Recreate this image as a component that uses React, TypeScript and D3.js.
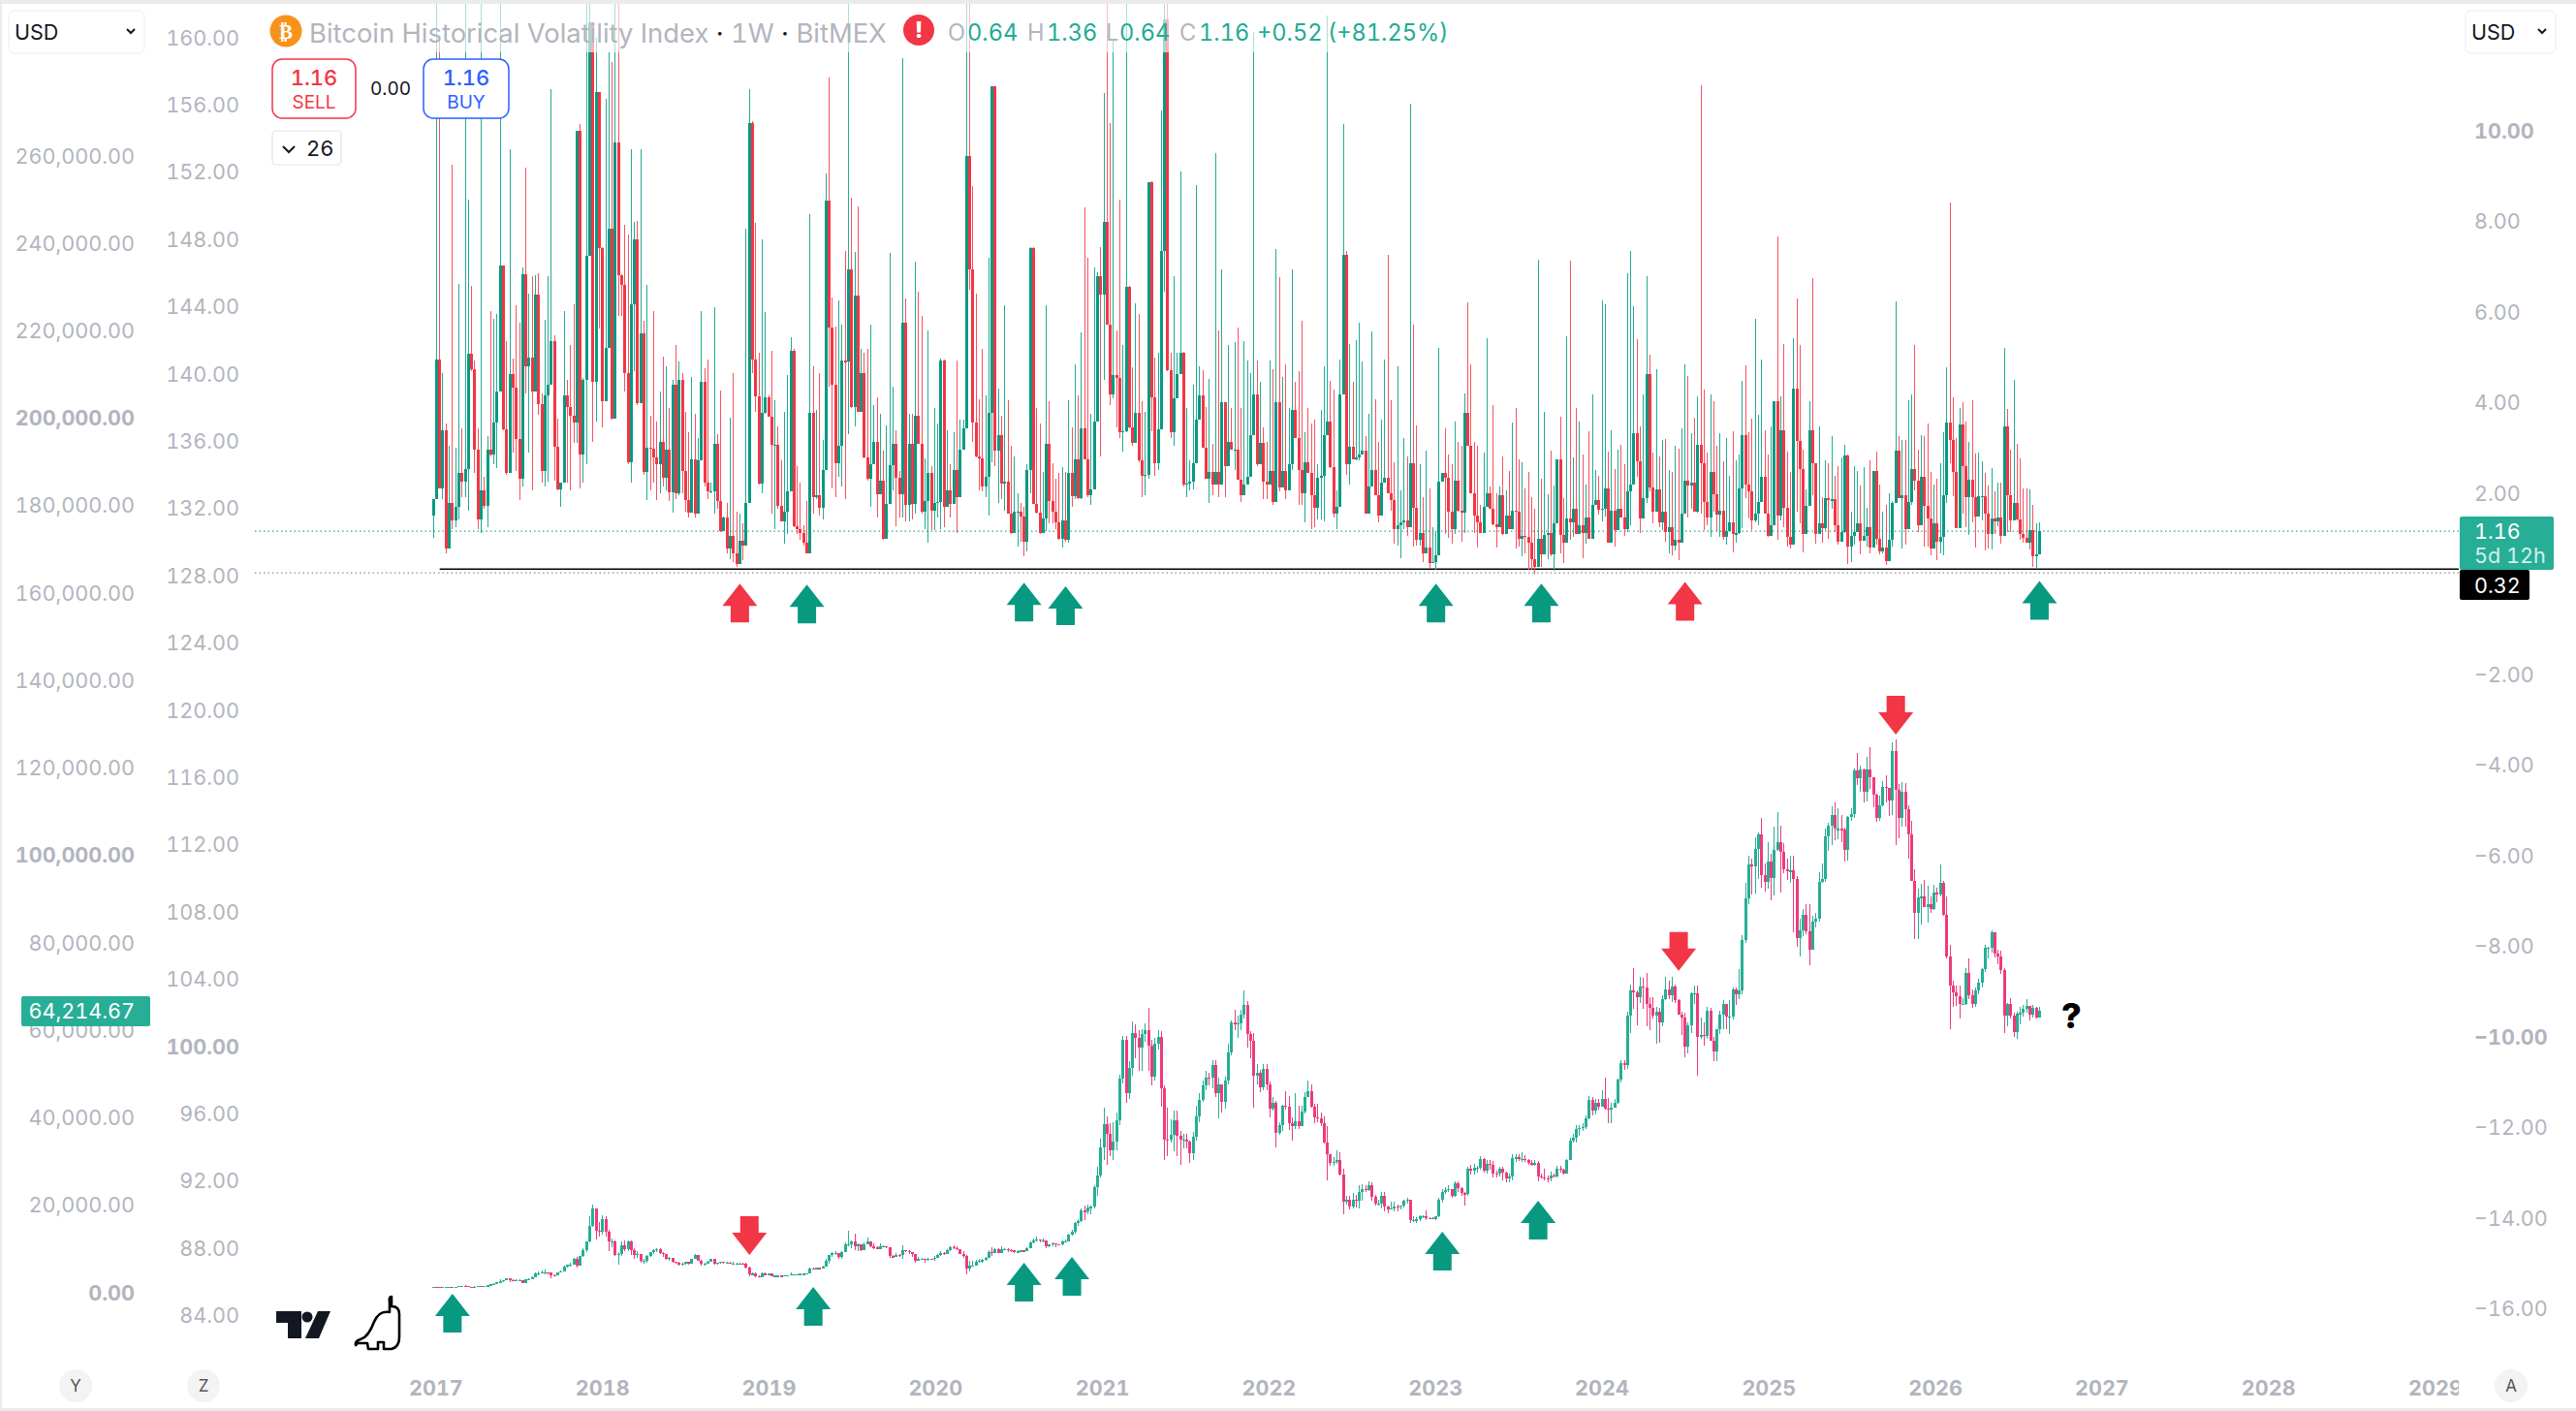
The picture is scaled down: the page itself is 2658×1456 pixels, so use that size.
import * as d3 from "d3";

// weekly candles, first one is the week of 2016-12-26
const firstWeek = new Date(Date.UTC(2016, 11, 26));

// Bitcoin Historical Volatility Index, 1W
const volFirstOpen = 1.5;
const volClose = [
  1.87,4.96,2.11,3.38,.78,1.78,1.40,1.70,2.44,2.25,
  2.54,5.08,4.73,2.96,1.42,2.06,1.71,2.97,2.85,3.55,
  4.24,7.03,3.40,2.45,4.63,4.32,3.19,2.32,6.84,4.80,
  4.99,4.24,6.38,3.97,2.48,4.16,4.40,5.35,3.03,2.09,
  2.24,4.16,3.90,3.71,3.56,9.99,2.85,4.51,7.23,12.39,
  4.45,10.85,7.41,4.04,5.21,7.84,3.64,9.74,6.82,6.60,
  4.65,2.69,6.16,7.61,3.98,5.52,2.46,3.01,2.99,2.79,
  2.63,3.14,2.34,2.97,2.01,4.40,1.99,4.51,2.48,1.84,
  1.56,2.75,1.54,2.73,4.46,2.24,2.03,2.04,3.08,1.83,
  1.17,1.47,.78,1.06,.68,.43,.95,.84,1.78,10.18,
  4.96,4.13,2.21,3.77,4.12,3.69,3.07,3.07,1.72,1.38,
  1.58,2.05,5.14,1.27,1.21,1.11,.91,.68,3.77,1.91,
  1.95,1.68,2.52,8.45,5.66,4.40,2.66,3.05,4.92,4.90,
  6.94,3.91,6.37,3.79,4.65,2.79,2.32,2.64,3.14,1.97,
  2.28,.99,1.77,2.62,3.09,2.34,1.97,5.76,1.73,3.09,
  1.77,3.71,3.09,1.58,1.83,2.45,1.62,1.78,1.81,4.92,
  1.70,2.06,1.76,2.50,1.92,2.97,3.42,9.44,
  6.94,3.56,2.81,2.77,2.14,2.36,3.77,10.99,2.93,3.28,
  2.21,2.26,1.55,1.11,1.58,1.60,1.48,.92,2.52,7.41,
  1.76,1.57,1.11,1.43,3.09,1.82,1.60,1.35,.99,1.39,
  .96,2.44,1.93,2.75,1.89,3.42,2.75,1.95,2.08,3.57,
  6.80,6.38,7.98,5.73,4.17,4.61,4.55,3.34,3.36,6.56,
  3.46,3.12,3.77,2.73,2.38,2.41,8.87,4.12,2.66,3.40,
  7.35,12.47,4.71,3.34,4.10,4.63,5.10,2.19,2.22,2.26,
  2.66,3.63,4.16,3.01,2.32,2.46,2.19,2.46,2.19,4.01,
  2.60,3.14,2.96,2.96,2.30,1.96,2.19,2.36,3.28,4.18,
  2.64,3.12,2.25,2.19,2.48,1.80,4.0,2.13,2.48,2.07,
  2.64,3.83,3.22,2.52,1.99,2.69,2.44,1.96,1.68,2.34,
  2.38,3.28,3.59,2.58,1.55,1.70,4.18,7.26,2.63,3.03,
  2.74,2.79,2.86,2.94,1.54,2.15,2.52,1.95,1.50,2.24,
  2.34,2.0,1.84,1.21,1.28,1.36,1.40,1.24,2.66,1.68,
  .97,1.13,.68,.80,.45,.48,.62,2.26,2.44,2.34,
  1.6,1.21,2.27,1.61,1.56,3.77,3.05,1.99,1.51,1.35,
  1.12,1.70,2.0,1.66,1.32,1.25,1.95,1.09,1.51,1.21,
  1.62,1.6,1.0,1.06,1.03,.91,.54,.36,1.0,.65,
  1.08,1.13,.65,1.33,2.74,1.08,.9,1.45,1.35,1.65,
  1.1,1.3,1.11,1.47,1.0,1.75,1.84,1.63,1.65,2.11,
  .9,1.62,1.18,1.66,1.47,1.2,2.05,2.2,3.32,2.7,
  1.43,1.88,4.62,2.13,1.58,2.09,1.35,1.58,1.14,1.24,
  .84,.98,.9,1.55,2.27,2.17,2.24,1.59,3.07,2.65,
  1.81,1.47,2.46,1.97,1.53,1.62,1.03,1.17,1.36,1.1,
  1.11,2.1,3.27,2.18,2.04,1.4,1.54,1.81,2.37,1.54,
  1.06,1.3,4.04,1.5,3.39,1.68,1.04,.86,4.3,3.16,
  2.54,1.1,1.72,3.39,2.65,1.1,1.34,1.23,1.88,1.86,
  1.86,1.29,.93,1.15,2.84,.81,1.06,1.15,1.34,.95,
  1.06,1.25,.8,2.48,1.0,.72,.79,.5,.96,1.79,
  2.93,1.88,1.95,1.21,1.81,2.54,2.27,1.29,2.35,1.72,
  1.43,.78,1.33,.93,1.04,1.95,3.55,3.18,2.47,1.22,
  3.51,2.59,1.91,2.29,1.92,1.48,1.94,1.94,1.54,1.1,
  1.43,1.38,1.47,1.06,3.48,1.95,1.4,1.79,1.41,1.1,
  1.01,.91,1.18,.61,.64,1.16,
];
const volHigh = [
  1.87,13.5,12.06,4.65,3.54,3.05,9.25,3.0,6.61,3.42,
  13.5,8.48,6.57,4.93,3.42,13.5,2.36,3.26,6.03,5.84,
  5.96,13.5,7.03,5.35,9.59,4.98,6.15,5.76,6.98,9.18,
  6.41,6.78,6.82,6.86,4.2,5.82,6.8,10.93,5.48,3.64,
  2.24,6.03,4.51,5.28,6.18,9.99,10.15,4.54,13.5,13.5,
  12.39,12.06,10.85,7.43,10.71,11.73,11.53,13.5,13.5,6.84,
  7.92,7.72,9.6,7.98,8.02,9.6,5.8,6.6,3.71,6.03,
  3.58,4.24,5.02,4.81,3.87,4.49,5.28,4.9,4.65,3.79,
  3.34,4.57,3.75,3.22,6.03,4.75,4.96,2.24,6.1,3.3,
  4.27,1.48,1.78,3.67,4.65,1.58,1.54,1.33,7.84,10.93,
  10.22,7.97,5.1,7.6,6.0,4.16,5.14,4.05,3.48,2.73,
  3.79,4.61,5.44,5.18,2.6,2.24,1.29,1.83,8.15,4.81,
  3.83,4.65,3.18,9.05,11.18,6.33,5.67,6.25,5.72,7.35,
  13.5,8.52,7.33,8.33,5.18,5.1,5.18,5.73,3.95,4.12,
  3.75,2.93,3.5,7.31,4.34,3.38,2.48,11.61,6.3,3.75,
  3.75,7.12,6.45,5.92,2.77,5.59,2.6,3.87,3.54,4.98,
  4.95,3.38,2.64,3.34,4.93,3.62,3.62,13.5,
  13.5,8.78,6.41,4.08,5.18,4.16,7.2,10.99,10.99,4.3,
  3.71,6.14,4.05,3.05,2.81,1.99,1.78,1.7,2.64,7.43,
  7.43,3.87,3.54,2.46,6.15,4.02,2.66,2.32,2.44,2.58,
  2.46,4.05,3.46,4.85,4.16,5.55,8.32,7.19,3.75,6.98,
  6.88,7.43,10.83,13.5,10.18,11.98,5.59,8.47,5.27,13.5,
  6.57,4.77,6.2,5.96,4.04,3.79,8.87,8.88,5.0,5.1,
  10.46,13.5,13.5,5.1,6.78,5.1,9.11,5.12,3.87,2.73,
  4.39,8.81,4.81,4.72,3.9,4.53,3.09,9.5,5.59,6.93,
  4.01,5.27,3.87,5.33,5.65,3.87,5.35,4.93,4.65,12.18,
  4.93,4.45,3.46,3.14,4.93,4.73,7.38,6.76,4.57,4.85,
  3.87,6.93,4.45,4.69,5.8,3.34,3.87,3.54,3.62,2.64,
  3.83,4.81,12.55,4.47,4.28,2.07,4.95,10.15,7.35,5.3,
  4.45,5.37,5.76,4.9,3.26,3.75,5.58,4.08,3.14,3.62,
  4.95,7.27,4.05,2.68,4.81,2.07,3.22,2.81,10.59,5.71,
  3.5,2.64,1.91,2.93,2.11,1.25,1.17,5.2,2.44,3.42,
  2.85,2.64,3.59,3.14,3.05,4.2,6.22,4.85,3.14,3.05,
  1.74,2.89,5.41,2.15,3.95,1.99,2.15,2.81,2.07,2.48,
  3.55,3.89,2.75,2.68,2.11,2.47,1.92,1.65,7.16,2.32,
  3.79,1.98,2.93,2.16,2.74,3.68,1.9,5.46,7.14,2.79,
  3.89,3.57,2.86,2.18,3.36,4.19,2.52,2.38,6.25,6.16,
  2.91,3.39,2.54,2.97,3.07,2.63,6.85,7.35,6.12,5.39,
  3.48,4.19,6.8,5.05,2.9,4.73,2.82,3.17,3.2,2.5,
  2.47,3.05,2.99,3.42,4.84,4.59,3.32,3.66,4.14,11.0,
  4.29,2.9,4.19,4.04,3.05,3.32,2.7,3.22,2.38,3.36,
  2.72,2.86,4.48,4.82,3.34,3.64,5.85,3.73,4.94,3.39,
  2.86,3.48,4.04,7.67,4.13,5.3,2.91,2.47,5.43,6.3,
  5.28,2.95,2.08,4.02,6.75,2.65,3.47,1.92,2.72,2.67,
  3.25,2.38,2.6,2.79,3.06,2.85,1.59,2.59,2.49,2.16,
  2.57,1.68,2.72,2.48,2.91,2.18,1.58,1.75,1.99,1.83,
  6.23,3.25,3.17,3.17,4.05,4.19,5.28,2.97,3.29,3.25,
  3.54,2.47,2.2,2.31,2.66,3.34,4.77,8.41,4.11,3.22,
  3.89,4.0,3.59,3.13,4.06,2.87,2.9,2.7,2.45,2.16,
  2.55,2.04,2.23,2.23,5.2,3.85,2.95,4.51,3.09,2.77,
  2.1,2.1,2.08,1.74,1.34,1.36,
];
const volLow = [
  1.02,1.87,2.11,1.87,.68,.78,1.21,1.25,1.42,1.91,
  1.91,1.62,4.69,2.44,1.21,1.13,1.66,1.25,2.81,2.64,
  2.56,4.24,3.38,2.4,2.48,2.89,2.48,1.84,2.15,4.2,
  2.89,2.07,4.24,3.73,2.24,2.14,2.25,4.4,2.28,2.06,
  1.69,2.24,2.24,2.07,3.1,3.1,2.11,2.24,2.64,7.23,
  3.14,3.59,5.63,3.46,4.04,5.21,3.63,3.64,5.92,5.92,
  4.24,2.64,2.24,4.69,3.95,3.98,2.4,1.84,2.07,2.24,
  1.84,1.99,2.15,2.07,1.83,1.56,1.87,1.95,1.99,1.6,
  1.46,1.56,1.46,1.54,2.73,2.15,1.87,2.0,1.54,1.65,
  1.15,1.17,.68,.55,.48,.37,.43,.51,.84,1.78,
  4.65,3.79,2.2,1.99,3.75,3.69,1.54,1.21,1.66,1.38,
  .88,1.09,2.03,1.25,1.09,.97,.84,.68,.68,1.54,
  1.87,1.5,1.42,2.52,4.36,2.11,1.91,2.36,2.15,1.87,
  3.3,3.87,3.48,3.79,3.79,2.77,2.28,1.7,2.64,1.46,
  1.97,.97,.99,1.77,2.07,1.27,1.46,1.46,1.38,1.38,
  1.42,1.54,3.09,1.54,1.21,.91,1.19,1.19,1.46,1.21,
  1.25,1.7,1.46,1.76,1.13,1.92,2.97,3.42,
  6.49,3.14,2.79,2.07,2.05,1.91,1.51,2.68,2.6,1.78,
  1.87,1.62,1.54,1.1,1.11,.83,.93,.6,.72,1.99,
  1.76,1.54,1.09,1.11,1.17,1.33,1.33,1.21,.97,.79,
  .93,.91,1.7,1.87,1.87,1.87,2.75,1.91,1.73,2.09,
  3.57,2.81,4.49,5.73,3.95,4.1,3.46,3.22,2.91,3.34,
  3.42,3.05,3.12,2.68,1.91,1.95,2.32,3.36,2.38,2.52,
  3.4,6.45,4.69,3.22,3.05,4.1,4.63,2.15,1.92,2.07,
  2.09,2.66,3.62,3.01,2.32,1.78,1.95,2.19,1.91,2.19,
  1.91,2.6,2.96,2.52,2.3,1.8,1.96,2.19,2.36,3.28,
  2.6,2.64,1.87,1.87,2.19,1.73,1.8,2.05,2.13,1.87,
  2.07,2.52,3.22,1.74,1.74,1.35,2.44,1.21,1.25,1.42,
  1.42,1.38,3.28,2.56,1.46,1.21,1.7,4.18,2.4,2.19,
  2.74,2.73,2.73,2.85,1.54,1.54,2.15,1.95,1.35,1.5,
  2.24,2.0,1.62,.88,.85,.56,1.21,1.05,1.24,.83,
  .85,.85,.48,.68,.35,.45,.31,.62,2.26,1.09,
  1.01,.88,1.09,1.6,.93,1.11,3.05,1.99,1.13,.8,
  1.12,1.25,1.7,1.66,1.29,.8,1.25,1.07,1.09,1.21,
  1.2,.77,.81,.6,.67,.31,.31,.22,.36,.38,
  .65,.54,.6,.29,1.33,.68,.45,.9,.97,1.03,
  1.1,1.1,.56,.88,1.0,1.0,1.75,1.52,1.38,1.48,
  .9,.9,.81,1.18,1.47,1.06,1.15,1.28,2.18,2.36,
  1.11,1.43,1.79,2.04,1.34,1.58,1.25,1.18,.93,.68,
  .63,.74,.52,.9,1.55,1.47,1.65,1.59,1.56,1.55,
  1.18,1.29,1.04,1.59,1.17,1.03,.96,.86,1.36,.7,
  .9,1.1,1.22,1.9,1.43,1.18,1.36,1.29,1.81,1.54,
  1.03,1.06,1.29,.98,1.4,1.25,.83,.78,.86,1.58,
  1.33,.7,1.1,1.72,1.95,.88,1.1,.9,1.18,1.0,
  1.65,1.15,.86,.93,1.11,.44,.47,.86,1.15,.65,
  .95,.83,.67,.8,.86,.65,.68,.41,.5,.81,
  1.79,1.88,.77,.86,1.21,1.74,2.06,1.15,1.29,.83,
  .81,.63,.78,.52,.66,.63,1.78,2.65,1.93,1.22,
  1.22,1.54,1.25,1.08,1.36,.79,1.48,1.4,.73,.77,
  .76,1.1,1.27,.88,1.06,1.15,1.15,1.4,1.4,.97,
  .91,.9,.76,.38,.32,.64,
];

// BTC/USD weekly, in thousands of dollars
const btcFirstOpen = 0.89;
const btcClose = [
  // 2017
  1.0,.91,.82,.92,.92,1.01,1.0,1.05,1.17,1.27,1.24,1.03,.96,1.08,1.18,1.17,1.26,1.35,1.55,1.72,
  2.05,2.2,2.5,2.95,2.6,2.45,2.5,2.5,1.95,2.75,2.75,3.25,4.05,4.1,4.35,4.35,4.2,3.7,3.6,4.4,
  4.6,5.7,6.0,6.15,7.4,5.9,8.0,9.3,11.3,15.0,19.0,13.9,13.5,
  // 2018
  16.5,13.5,11.5,11.5,8.2,8.5,10.5,9.7,11.5,9.5,8.2,8.5,6.9,7.0,8.0,8.9,9.4,9.6,8.7,8.5,
  7.3,7.7,6.7,6.5,6.1,6.4,6.7,6.3,7.4,8.2,7.0,6.3,6.4,6.7,7.3,6.2,6.5,6.7,6.6,6.6,
  6.3,6.4,6.4,6.4,6.35,5.5,3.9,4.0,3.4,3.2,4.0,3.85,
  // 2019
  4.0,3.5,3.55,3.55,3.45,3.65,3.65,3.8,3.8,3.9,4.0,4.0,4.1,5.2,5.1,5.3,5.2,5.7,7.0,8.2,
  8.7,8.7,7.9,8.9,10.8,10.8,11.4,10.2,10.7,9.5,10.8,11.3,10.2,10.1,9.7,10.3,10.3,10.0,8.0,7.9,
  8.3,8.2,9.5,9.2,9.0,8.5,7.0,7.4,7.5,7.1,7.5,7.3,
  // 2020
  7.7,8.2,8.7,8.6,9.3,10.1,9.9,9.7,8.6,8.0,5.2,5.8,5.9,6.8,6.9,7.1,7.7,9.0,8.7,9.7,
  8.8,9.7,9.7,9.4,9.3,9.0,9.1,9.3,9.2,9.9,11.1,11.7,11.9,11.6,11.7,10.3,10.7,10.9,10.8,10.7,
  11.4,11.5,13.0,13.7,15.5,16.0,18.4,18.2,19.2,19.3,23.9,26.5,
  // 2021
  33.0,38.2,36.0,32.3,34.3,39.2,48.7,57.4,45.2,51.0,59.0,58.0,55.8,58.8,59.8,56.2,49.0,56.6,58.2,46.4,
  34.7,34.6,35.8,39.0,35.6,34.7,34.7,34.2,31.5,35.3,39.9,43.8,47.0,48.9,48.8,51.8,45.2,47.2,43.2,48.2,
  54.7,61.5,61.0,61.3,63.3,65.5,58.9,57.2,49.4,50.0,46.7,50.8,47.3,
  // 2022
  41.8,43.1,36.3,38.0,42.4,42.2,38.4,37.7,38.9,37.8,41.2,44.5,45.8,42.2,39.7,39.5,38.5,34.0,31.3,29.4,
  29.5,29.9,26.6,20.5,21.0,19.3,20.9,20.8,22.6,23.3,23.2,24.3,21.5,20.0,20.0,21.8,19.4,18.8,19.0,19.4,
  19.3,19.6,20.6,20.9,16.3,16.3,16.4,17.1,17.1,16.7,16.8,16.6,
  // 2023
  17.1,20.9,22.7,23.1,23.3,21.8,24.6,23.5,22.4,22.2,28.0,27.5,28.2,28.3,30.3,27.6,29.2,28.9,26.9,26.8,
  28.0,27.2,25.9,26.3,30.5,30.6,30.2,30.3,30.1,29.3,29.0,29.3,26.2,26.0,25.9,25.8,26.5,26.3,28.0,27.9,
  27.0,30.0,34.5,35.0,37.1,37.4,37.5,39.5,43.8,41.4,43.0,42.3,
  // 2024
  43.9,41.7,41.6,42.0,43.0,48.3,52.1,51.7,63.1,68.9,68.4,67.2,69.7,69.4,65.7,64.9,63.1,64.0,61.5,66.9,
  69.0,67.7,69.6,66.6,63.2,62.7,55.9,60.8,68.2,68.2,58.1,58.7,58.4,64.2,57.3,54.9,59.9,63.3,65.6,62.8,
  62.8,69.0,67.9,68.7,80.4,89.9,97.7,97.2,101.1,104.4,95.1,93.7,
  // 2025
  98.3,94.5,101.0,102.6,100.6,96.5,96.1,96.2,94.2,80.7,82.6,86.0,82.4,78.2,84.5,85.1,93.7,94.3,104.1,106.4,
  109.0,105.7,105.7,105.5,101.0,108.4,109.2,119.0,117.3,119.4,114.2,119.3,117.5,113.5,108.3,111.1,115.3,115.2,112.2,123.5,
  114.7,108.3,114.2,110.3,104.4,93.9,86.6,90.1,90.2,87.9,88.5,87.5,
  // 2026
  91.2,90.7,93.4,86.1,76.6,70.0,68.4,67.4,65.8,65.8,72.7,67.6,65.8,68.7,70.5,73.6,78.5,78.5,82.1,77.2,
  76.6,73.5,63.1,65.6,63.0,59.3,63.5,63.6,64.6,65.3,63.3,64.8,62.7,64.21,
];
const btcHigh = [
  // 2017
  1.0,1.04,.92,.93,.93,1.03,1.02,1.06,1.2,1.29,1.33,1.26,1.07,1.09,1.2,1.21,1.27,1.36,1.62,1.85,
  2.18,2.76,2.55,2.98,2.99,2.78,2.65,2.65,2.43,2.85,2.9,3.4,4.2,4.45,4.65,4.98,4.4,4.13,3.9,4.4,
  4.78,5.8,6.15,6.45,7.6,7.88,8.1,9.8,11.4,17.2,19.8,16.8,15.8,
  // 2018
  17.3,17.2,14.0,12.1,11.7,9.0,11.3,11.7,11.7,11.6,9.9,9.2,8.6,7.5,8.2,9.0,9.7,9.9,9.9,8.9,
  8.5,7.8,7.7,6.8,6.8,6.6,6.8,6.8,7.5,8.4,8.3,7.2,6.5,6.9,7.4,7.4,6.6,6.8,6.8,6.7,
  6.8,6.7,6.5,6.5,6.5,6.5,5.6,4.4,4.3,3.6,4.2,4.2,
  // 2019
  4.1,4.1,3.7,3.65,3.6,3.7,3.7,4.2,3.9,3.95,4.0,4.1,4.15,5.3,5.3,5.4,5.5,5.8,7.4,8.3,
  8.9,9.1,8.3,9.2,11.2,13.9,11.6,13.1,11.0,10.2,11.1,12.3,11.3,10.9,10.2,10.9,10.6,10.3,10.0,8.3,
  8.7,8.4,10.4,9.5,9.4,8.8,7.8,7.9,7.7,7.5,7.6,7.5,
  // 2020
  8.1,8.4,9.1,9.0,9.6,10.2,10.5,10.3,9.7,9.2,8.2,6.9,6.9,7.2,7.4,7.3,7.8,9.4,10.0,9.9,
  9.9,10.2,9.9,9.9,9.7,9.4,9.4,9.4,9.3,10.0,11.4,12.0,12.4,11.8,12.1,11.7,10.8,11.2,10.9,10.8,
  11.7,11.8,13.2,14.0,15.9,16.5,18.9,19.5,19.9,19.5,24.2,28.4,
  // 2021
  34.8,41.9,40.0,38.5,38.7,40.9,49.5,58.3,58.3,52.6,61.8,61.0,59.6,60.0,61.3,64.8,57.5,58.0,59.6,59.5,
  47.0,42.0,39.3,41.3,41.3,36.7,36.0,35.9,34.5,36.4,42.5,45.3,48.1,50.5,49.9,52.9,52.9,48.8,45.0,49.1,
  56.5,62.0,64.4,63.0,64.3,68.8,66.3,59.5,59.0,51.9,50.7,52.0,51.9,
  // 2022
  47.9,44.4,43.5,38.7,42.6,45.8,44.7,39.8,45.4,42.5,42.4,45.5,48.2,47.4,42.9,42.9,40.8,39.9,37.7,31.4,
  30.7,32.2,31.7,28.0,21.9,21.9,22.5,22.0,24.2,24.5,24.2,25.2,24.9,22.0,21.0,22.8,22.7,19.6,20.5,20.4,
  19.9,19.7,21.0,21.4,21.0,17.2,17.0,17.3,17.4,18.4,16.9,16.9,
  // 2023
  17.2,21.4,23.3,23.9,24.2,23.4,25.2,25.1,23.9,22.6,28.4,28.9,29.2,28.7,30.9,30.4,29.9,30.0,29.8,27.6,
  28.4,28.4,27.4,26.8,31.4,31.4,31.4,31.8,31.2,30.3,30.0,30.1,29.7,26.8,28.1,26.4,27.4,27.0,28.6,28.6,
  28.0,30.2,35.2,35.9,37.9,38.0,38.4,40.2,44.7,44.4,44.0,44.0,
  // 2024
  45.9,48.9,44.2,43.0,43.9,48.6,52.8,52.9,63.9,70.1,73.8,68.9,71.8,71.6,72.7,67.2,67.2,65.0,64.9,67.7,
  71.9,71.0,72.0,70.2,66.9,63.9,63.8,61.4,68.4,70.0,70.0,62.6,61.4,65.0,64.9,58.2,60.0,64.1,66.5,64.4,
  66.5,69.5,69.5,73.6,81.5,93.4,99.5,98.9,103.9,105.0,108.3,97.9,
  // 2025
  102.7,100.0,106.3,109.6,106.4,102.5,98.9,99.5,99.5,95.0,85.3,87.5,88.5,88.5,85.9,86.5,95.8,97.9,105.8,107.1,
  110.9,111.9,110.4,109.0,106.1,108.7,110.5,119.5,123.2,120.2,119.5,122.3,124.5,117.4,113.7,113.4,116.7,117.9,114.8,125.5,
  126.2,115.9,116.4,116.3,111.1,107.5,96.6,92.0,93.1,94.1,92.8,90.4,
  // 2026
  93.0,92.3,97.6,93.8,90.3,79.2,71.0,70.0,70.0,67.0,74.0,76.0,69.0,69.5,71.5,73.9,79.3,78.8,82.5,82.1,
  78.0,77.8,73.8,66.0,67.0,63.6,63.9,65.0,65.5,66.7,65.3,65.5,65.0,65.0,
];
const btcLow = [
  // 2017
  .89,.75,.75,.88,.88,.9,.96,.97,1.03,1.18,1.1,.93,.88,.95,1.05,1.1,1.15,1.25,1.35,1.5,
  1.7,1.9,2.15,2.5,2.1,2.3,2.3,2.25,1.83,1.95,2.6,2.7,3.2,3.6,4.0,3.9,3.9,2.97,3.4,3.6,
  4.2,4.6,5.4,5.6,6.1,5.5,5.9,7.9,9.0,11.1,14.8,11.8,12.5,
  // 2018
  13.0,12.6,9.2,10.1,8.0,6.0,8.0,9.2,9.2,8.3,7.5,7.7,6.6,6.4,6.6,7.8,8.6,8.9,8.4,7.9,
  7.1,7.0,6.6,6.2,5.8,5.8,6.1,6.1,6.3,7.3,6.9,5.9,5.9,6.3,6.7,6.1,6.1,6.3,6.4,6.2,
  6.2,6.3,6.3,6.3,6.3,5.2,3.5,3.6,3.3,3.2,3.2,3.6,
  // 2019
  3.7,3.4,3.45,3.45,3.35,3.4,3.55,3.6,3.7,3.7,3.85,3.9,3.9,4.05,4.9,5.0,5.1,5.1,5.6,6.4,
  7.8,8.2,7.4,7.5,8.9,10.3,9.8,9.5,9.2,9.2,9.4,10.8,10.0,9.6,9.6,9.6,10.0,9.8,7.7,7.7,
  7.8,7.9,7.3,9.0,8.6,7.9,6.6,6.9,7.1,6.5,7.0,7.1,
  // 2020
  7.0,7.7,8.0,8.3,8.5,9.2,9.6,9.3,8.5,7.7,3.9,4.5,5.7,5.9,6.6,6.5,6.9,7.6,8.1,8.9,
  8.7,8.9,9.4,8.9,9.0,8.8,8.9,9.0,9.0,9.1,9.8,10.9,11.4,11.2,11.1,9.9,10.0,10.3,10.1,10.4,
  10.5,11.1,11.4,12.8,13.2,15.0,15.9,16.2,17.6,17.6,18.9,21.8,
  // 2021
  26.0,30.0,29.0,30.8,30.0,32.3,38.0,47.5,43.0,43.9,49.2,53.3,50.4,50.5,57.0,50.5,47.0,48.1,55.2,42.2,
  30.0,31.0,34.0,32.0,31.0,28.8,32.7,32.7,29.3,30.0,34.5,38.6,43.4,46.0,47.0,46.5,44.5,39.6,40.8,41.7,
  47.4,53.9,59.6,58.0,59.8,62.3,55.7,53.3,42.0,47.3,45.6,45.9,46.0,
  // 2022
  39.7,41.3,33.0,35.7,36.6,41.5,36.8,34.5,37.2,37.2,38.0,40.7,44.4,41.9,38.5,38.6,37.7,33.7,25.4,28.7,
  28.6,29.2,26.5,17.6,19.9,18.7,18.9,19.2,18.9,20.7,22.7,23.0,20.8,19.6,19.5,19.0,18.2,17.9,18.9,18.2,
  18.2,18.7,19.1,20.0,15.6,15.8,15.5,16.0,16.7,16.3,16.4,16.4,
  // 2023
  16.3,16.9,20.3,22.3,22.6,21.4,21.5,22.8,21.9,19.6,21.9,26.6,26.6,27.2,27.8,27.1,27.0,27.7,26.0,26.1,
  26.3,25.4,25.0,24.9,25.4,29.5,29.7,29.5,29.6,28.9,28.6,28.7,25.2,25.8,25.4,24.9,25.1,26.0,26.0,27.2,
  26.6,26.9,29.9,34.1,34.0,35.6,36.7,37.2,39.3,40.2,40.5,41.5,
  // 2024
  42.6,41.5,38.5,38.4,41.9,42.8,47.7,50.6,50.9,59.0,64.6,60.8,66.0,64.5,60.7,59.6,62.4,56.6,56.9,60.7,
  66.5,66.7,66.1,65.9,63.2,58.5,53.5,54.3,59.0,65.7,49.2,57.7,56.1,57.8,57.3,52.6,52.6,58.9,59.9,60.0,
  58.9,62.1,65.5,66.8,68.0,79.6,88.5,90.7,91.0,94.2,92.2,91.3,
  // 2025
  92.0,89.3,90.5,100.7,91.2,95.7,94.0,93.4,82.2,78.8,76.6,81.1,81.6,74.5,78.7,83.1,84.6,93.4,93.6,100.8,
  102.1,103.1,103.4,102.7,98.2,98.4,107.5,108.3,115.8,114.2,111.9,112.0,114.8,110.7,107.3,107.5,110.8,111.7,108.6,109.0,
  102.0,103.5,106.3,106.3,98.9,94.0,80.6,80.6,83.8,87.8,84.4,86.6,
  // 2026
  87.3,89.0,90.2,85.8,76.0,60.0,65.0,65.2,62.3,65.7,65.5,66.8,64.9,65.1,67.8,69.5,72.9,76.0,77.5,76.4,
  74.7,72.5,59.0,60.7,62.3,58.1,57.8,61.0,62.8,63.7,62.0,62.7,62.3,63.2,
];

// annotations: week number and the value at the arrow tip
const volArrows = [
  { week: 96, value: 0.0, color: "red" },
  { week: 117, value: -0.02, color: "green" },
  { week: 185, value: 0.02, color: "green" },
  { week: 198, value: -0.06, color: "green" },
  { week: 314, value: 0.0, color: "green" },
  { week: 347, value: 0.0, color: "green" },
  { week: 392, value: 0.04, color: "red" },
  { week: 503, value: 0.06, color: "green" },
];
const btcUpArrows = [
  { week: 6, value: -580 },
  { week: 119, value: 980 },
  { week: 185, value: 6520 },
  { week: 200, value: 7850 },
  { week: 316, value: 13620 },
  { week: 346, value: 20700 },
];
const btcDownArrows = [
  { week: 99, value: 8290 },
  { week: 390, value: 73300 },
  { week: 458, value: 127300 },
];

const priceTicks = d3.range(0, 260001, 20000);
const boldPriceTicks = [100000, 200000];
const midTicks = d3.range(84, 161, 4);
const volTicks = [10, 8, 6, 4, 2, -2, -4, -6, -8, -10, -12, -14, -16];

const WIDTH = 2658;
const HEIGHT = 1456;
const PANE_RIGHT = 2537;
const font = "Inter, 'Noto Sans', sans-serif";
const axisGray = "#b2b5be";
const green = "#089981";
const red = "#f23645";
const teal = "#22ab94";
const AXIS_SIZE = 21.6;

const x = d3
  .scaleUtc()
  .domain([new Date(Date.UTC(2017, 0, 1)), new Date(Date.UTC(2029, 0, 1))])
  .range([449.9, 2513]);
const weekX = (i: number) => x(d3.utcMonday.offset(firstWeek, i));

const priceY = d3.scaleLinear().domain([0, 260000]).range([1332.4, 159.3]);
const midY = d3.scaleLinear().domain([84, 160]).range([1356, 37.3]);
const volY = d3.scaleLinear().domain([-16, 10]).range([1350, 135]);

const fmt2 = d3.format(",.2f");
const signed = (v: number) => fmt2(v).replace("-", "\u2212");

type CandleProps = {
  close: number[];
  high: number[];
  low: number[];
  firstOpen: number;
  y: (v: number) => number;
  unit?: number;
  upBody: string;
  downBody: string;
  upWick: string;
  downWick: string;
};

function Candles({ close, high, low, firstOpen, y, unit = 1, upBody, downBody, upWick, downWick }: CandleProps) {
  return (
    <g shapeRendering="crispEdges">
      {close.map((c, i) => {
        const o = i === 0 ? firstOpen : close[i - 1];
        const up = c >= o;
        const cx = weekX(i);
        const top = y(Math.max(o, c) * unit);
        const bottom = y(Math.min(o, c) * unit);
        const hi = y(Math.max(high[i] ?? c, o, c) * unit);
        const lo = y(Math.min(low[i] ?? c, o, c) * unit);
        return (
          <g key={i}>
            <line x1={cx} x2={cx} y1={hi} y2={lo} stroke={up ? upWick : downWick} strokeWidth={1} />
            <rect x={cx - 1.5} width={3} y={top} height={Math.max(bottom - top, 1.2)} fill={up ? upBody : downBody} />
          </g>
        );
      })}
    </g>
  );
}

// tip at (cx, tip), points up (dir 1) or down (dir -1)
function Arrow({ cx, tip, dir, color }: { cx: number; tip: number; dir: number; color: string }) {
  const p = d3.path();
  p.moveTo(cx, tip);
  p.lineTo(cx + 18, tip + dir * 23);
  p.lineTo(cx + 9.5, tip + dir * 23);
  p.lineTo(cx + 9.5, tip + dir * 40);
  p.lineTo(cx - 9.5, tip + dir * 40);
  p.lineTo(cx - 9.5, tip + dir * 23);
  p.lineTo(cx - 18, tip + dir * 23);
  p.closePath();
  return <path d={p.toString()} fill={color} />;
}

function Dropdown({ x0, width, label }: { x0: number; width: number; label: string }) {
  return (
    <g>
      <rect x={x0} y={11} width={width} height={44} rx={6} fill="#fff" stroke="#f0f3fa" strokeWidth={1.5} />
      <text x={x0 + 6} y={33} dominantBaseline="central" fontSize={21.5} fill="#131722">
        {label}
      </text>
      <path
        d={`M${x0 + width - 18} 30 l4 4 l4 -4`}
        fill="none"
        stroke="#131722"
        strokeWidth={2}
      />
    </g>
  );
}

function Pill({ cx, label }: { cx: number; label: string }) {
  return (
    <g>
      <circle cx={cx} cy={1430} r={17} fill="#f3f3f4" />
      <text x={cx} y={1430} textAnchor="middle" dominantBaseline="central" fontSize={17} fill="#555">
        {label}
      </text>
    </g>
  );
}

export default function App() {
  const legend = { fontSize: 23.6, fill: teal };
  const legendKey = { fontSize: 23.6, fill: axisGray };
  return (
    <svg
      width={WIDTH}
      height={HEIGHT}
      viewBox={`0 0 ${WIDTH} ${HEIGHT}`}
      fontFamily={font}
      style={{ position: "absolute", left: 0, top: 0, display: "block", background: "#fff", fontFeatureSettings: "'tnum'" }}
    >
      <defs>
        <clipPath id="pane">
          <rect x={155} y={4} width={PANE_RIGHT - 155} height={1400} />
        </clipPath>
        <clipPath id="timeAxis">
          <rect x={155} y={1400} width={PANE_RIGHT - 155} height={50} />
        </clipPath>
      </defs>

      {/* frame */}
      <rect x={0} y={0} width={WIDTH} height={4} fill="#ebebeb" />
      <rect x={0} y={0} width={2} height={HEIGHT} fill="#ebebeb" />
      <rect x={0} y={1453} width={WIDTH} height={3} fill="#ebebeb" />

      {/* left scale of the BTC pane */}
      {priceTicks.map((t) => (
        <text
          key={t}
          x={139}
          y={priceY(t) + 1.2}
          textAnchor="end"
          dominantBaseline="central"
          fontSize={AXIS_SIZE}
          fontWeight={boldPriceTicks.includes(t) || t === 0 ? 700 : 400}
          fill={axisGray}
        >
          {fmt2(t)}
        </text>
      ))}
      {midTicks.map((t) => (
        <text
          key={t}
          x={247}
          y={midY(t) + 1.2}
          textAnchor="end"
          dominantBaseline="central"
          fontSize={AXIS_SIZE}
          fontWeight={t === 100 ? 700 : 400}
          fill={axisGray}
        >
          {fmt2(t)}
        </text>
      ))}
      {volTicks.map((t) => (
        <text
          key={t}
          x={2553}
          y={volY(t)}
          dominantBaseline="central"
          fontSize={AXIS_SIZE}
          fontWeight={t === 10 || t === -10 ? 700 : 400}
          fill={axisGray}
        >
          {signed(t)}
        </text>
      ))}

      {/* price lines */}
      <line x1={263} x2={PANE_RIGHT} y1={volY(1.16)} y2={volY(1.16)} stroke={teal} strokeWidth={1.2} strokeDasharray="1.5 3" />
      <line x1={263} x2={PANE_RIGHT} y1={volY(0.24)} y2={volY(0.24)} stroke="#8a8d96" strokeWidth={1.2} strokeDasharray="1.5 3" />
      <line x1={weekX(2.7)} x2={PANE_RIGHT} y1={volY(0.32)} y2={volY(0.32)} stroke="#000" strokeWidth={1.5} />

      <g clipPath="url(#pane)">
        <Candles
          close={volClose}
          high={volHigh}
          low={volLow}
          firstOpen={volFirstOpen}
          y={volY}
          upBody={green}
          downBody={red}
          upWick={teal}
          downWick="#f7525f"
        />
        <Candles
          close={btcClose}
          high={btcHigh}
          low={btcLow}
          firstOpen={btcFirstOpen}
          y={priceY}
          unit={1000}
          upBody="#26ae96"
          downBody="#ee3a7c"
          upWick="#26ae96"
          downWick="#ee3a7c"
        />
      </g>

      {/* arrows */}
      {volArrows.map((a) => (
        <Arrow key={a.week} cx={weekX(a.week)} tip={volY(a.value)} dir={1} color={a.color === "red" ? red : green} />
      ))}
      {btcUpArrows.map((a) => (
        <Arrow key={a.week} cx={weekX(a.week)} tip={priceY(a.value)} dir={1} color={green} />
      ))}
      {btcDownArrows.map((a) => (
        <Arrow key={a.week} cx={weekX(a.week)} tip={priceY(a.value)} dir={-1} color={red} />
      ))}
      <text
        x={weekX(513)}
        y={priceY(63000)}
        textAnchor="middle"
        dominantBaseline="central"
        fontSize={36}
        fontWeight={800}
        fill="#000"
      >
        ?
      </text>

      {/* legend sits on a translucent strip over the wicks */}
      <rect x={280} y={4} width={1210} height={50} fill="#fff" opacity={0.62} />
      <circle cx={295} cy={32} r={16.5} fill="#f7931a" />
      <text x={295} y={33} textAnchor="middle" dominantBaseline="central" fontSize={21} fontWeight={700} fill="#fff" fontFamily="DejaVu Sans">
        ₿
      </text>
      <text x={319} y={34} dominantBaseline="central" fontSize={27.4} fill={axisGray}>
        Bitcoin Historical Volatility Index
        <tspan fill="#131722"> · </tspan>1W<tspan fill="#131722"> · </tspan>BitMEX
      </text>
      <circle cx={948} cy={31} r={16} fill={red} />
      <text x={948} y={31} textAnchor="middle" dominantBaseline="central" fontSize={23} fontWeight={800} fill="#fff">
        !
      </text>
      <g dominantBaseline="central">
        <text x={978} y={33} {...legendKey}>O</text>
        <text x={998} y={33} {...legend}>0.64</text>
        <text x={1060} y={33} {...legendKey}>H</text>
        <text x={1080} y={33} {...legend}>1.36</text>
        <text x={1141} y={33} {...legendKey}>L</text>
        <text x={1155} y={33} {...legend}>0.64</text>
        <text x={1217} y={33} {...legendKey}>C</text>
        <text x={1237} y={33} {...legend}>1.16</text>
        <text x={1297} y={33} {...legend}>+0.52</text>
        <text x={1370} y={33} {...legend}>(+81.25%)</text>
      </g>

      {/* order buttons */}
      <rect x={281} y={61} width={86} height={61} rx={10} fill="#fff" stroke={red} strokeWidth={1.5} />
      <text x={324} y={80} textAnchor="middle" dominantBaseline="central" fontSize={22} fontWeight={500} fill={red}>1.16</text>
      <text x={324} y={105} textAnchor="middle" dominantBaseline="central" fontSize={19} fill={red}>SELL</text>
      <text x={403} y={91} textAnchor="middle" dominantBaseline="central" fontSize={19} fill="#131722">0.00</text>
      <rect x={437} y={61} width={88} height={61} rx={10} fill="#fff" stroke="#2962ff" strokeWidth={1.5} />
      <text x={481} y={80} textAnchor="middle" dominantBaseline="central" fontSize={22} fontWeight={500} fill="#2962ff">1.16</text>
      <text x={481} y={105} textAnchor="middle" dominantBaseline="central" fontSize={19} fill="#2962ff">BUY</text>
      <rect x={281} y={135} width={71} height={35} rx={4} fill="#fff" stroke="#e0e3eb" strokeWidth={1.2} />
      <path d="M292 151 l6 6 l6 -6" fill="none" stroke="#131722" strokeWidth={2} />
      <text x={316} y={153} dominantBaseline="central" fontSize={22} fill="#131722">26</text>

      <Dropdown x0={9} width={140} label="USD" />
      <Dropdown x0={2544} width={93} label="USD" />

      {/* last value tags */}
      <rect x={2538} y={533} width={97} height={55} rx={2} fill="#26ae96" />
      <text x={2553} y={548} dominantBaseline="central" fontSize={AXIS_SIZE} fill="#fff">1.16</text>
      <text x={2553} y={573} dominantBaseline="central" fontSize={AXIS_SIZE} fill="#fff" opacity={0.8}>5d 12h</text>
      <rect x={2538} y={588} width={72} height={31} rx={2} fill="#000" />
      <text x={2553} y={604} dominantBaseline="central" fontSize={AXIS_SIZE} fill="#fff">0.32</text>
      <rect x={22} y={1028} width={133} height={31} rx={2} fill="#26ae96" />
      <text x={139} y={1043} textAnchor="end" dominantBaseline="central" fontSize={AXIS_SIZE} fill="#fff">64,214.67</text>

      {/* time axis */}
      <g clipPath="url(#timeAxis)">
        {x.ticks(d3.utcYear.every(1)!).map((d) => (
          <text
            key={d.getTime()}
            x={x(d)}
            y={1432}
            textAnchor="middle"
            dominantBaseline="central"
            fontSize={AXIS_SIZE}
            fontWeight={700}
            fill={axisGray}
          >
            {d3.utcFormat("%Y")(d)}
          </text>
        ))}
      </g>
      <Pill cx={78} label="Y" />
      <Pill cx={210} label="Z" />
      <Pill cx={2591} label="A" />

      {/* logos */}
      <path d="M285 1353 H311 V1381 H297 V1365 H285 Z" fill="#131722" />
      <circle cx={317} cy={1359} r={5.5} fill="#131722" />
      <path d="M328 1353 H341 L329 1381 H315 Z" fill="#131722" />
      <path
        d="M404 1348 q8 0 8 8 v24 q0 10 -8 12 h-8 v-7 h-6 v7 h-10 l-1 -6 h-10 l-2 2 q-1 -4 5 -6 q8 -2 14 -18 q5 -12 16 -10 v-10 q-1 -6 2 -6 z"
        fill="#fff"
        stroke="#000"
        strokeWidth={2.6}
        strokeLinejoin="round"
      />
    </svg>
  );
}
